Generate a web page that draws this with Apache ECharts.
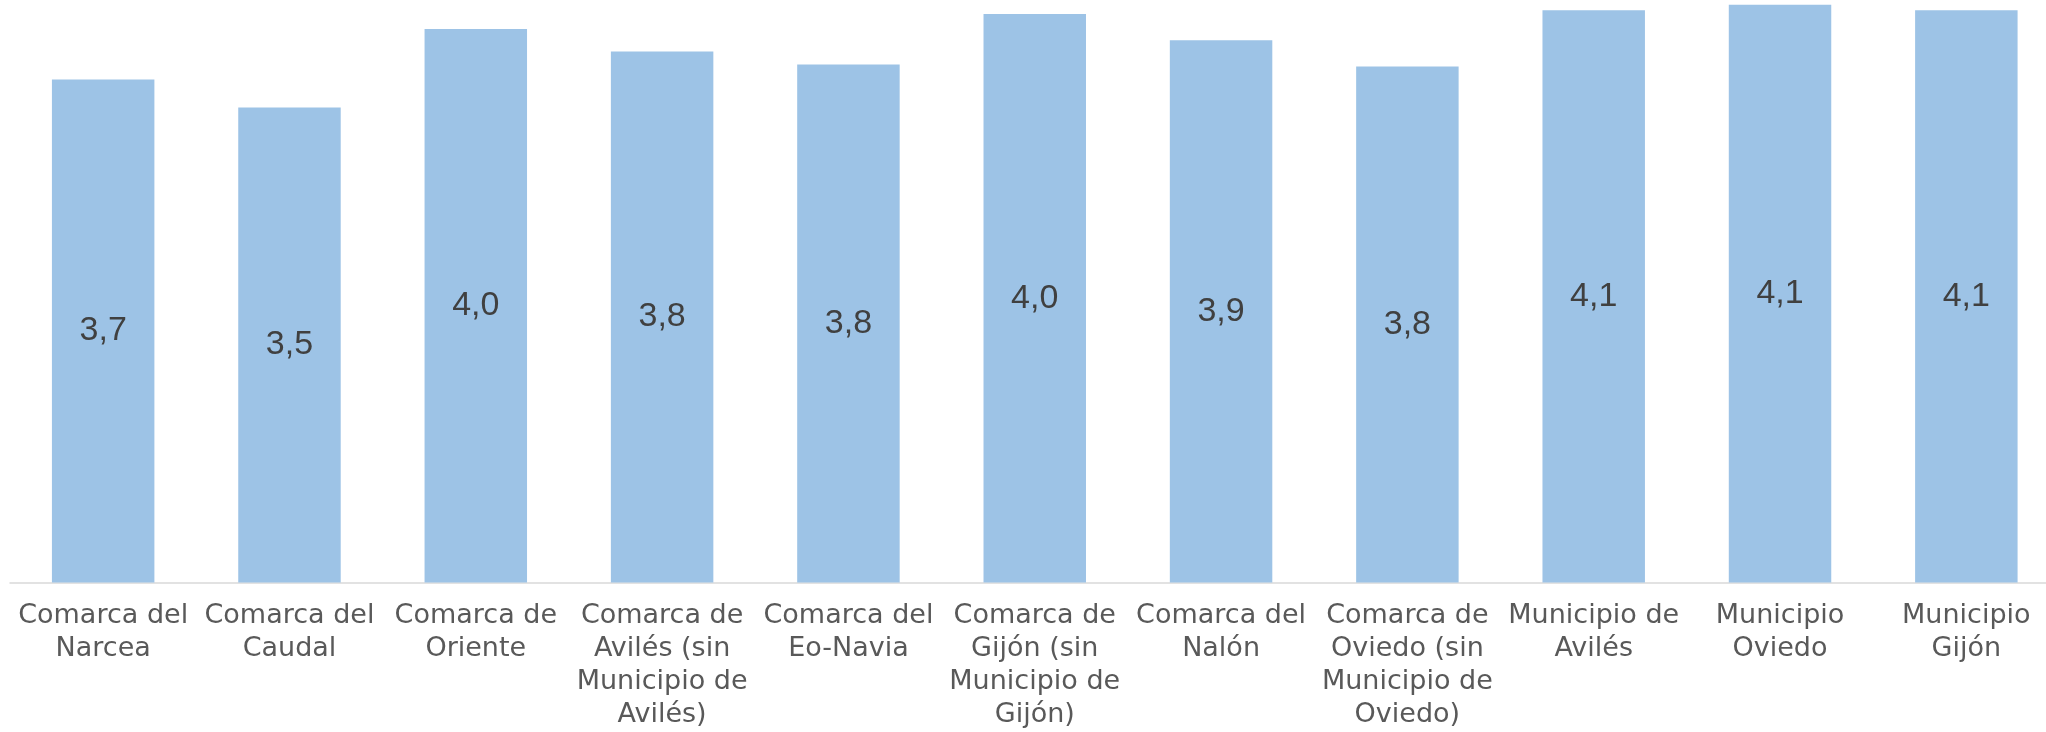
<!DOCTYPE html>
<html>
<head>
<meta charset="utf-8">
<script src="https://cdn.jsdelivr.net/npm/echarts@6/dist/echarts.min.js"></script>
<style>
html,body{margin:0;padding:0;background:#fff;overflow:hidden;width:2046px;height:732px;}
#chart{width:2060px;height:732px;}
</style>
</head>
<body>
<div id="chart"></div>
<script>
var categories = [
  "Comarca del\nNarcea",
  "Comarca del\nCaudal",
  "Comarca de\nOriente",
  "Comarca de\nAvilés (sin\nMunicipio de\nAvilés)",
  "Comarca del\nEo-Navia",
  "Comarca de\nGijón (sin\nMunicipio de\nGijón)",
  "Comarca del\nNalón",
  "Comarca de\nOviedo (sin\nMunicipio de\nOviedo)",
  "Municipio de\nAvilés",
  "Municipio\nOviedo",
  "Municipio\nGijón"
];
var values = [3.69, 3.54, 3.96, 3.84, 3.77, 4.04, 3.90, 3.76, 4.06, 4.09, 4.06];

var chart = echarts.init(document.getElementById('chart'), null, {renderer: 'canvas'});
chart.setOption({
  animation: false,
  backgroundColor: '#ffffff',
  grid: {left: 10, top: 0, right: 0.5, height: 582.5, containLabel: false},
  xAxis: {
    type: 'category',
    data: categories,
    axisLine: {show: true, lineStyle: {color: '#D9D9D9', width: 1.5}},
    axisTick: {show: false},
    axisLabel: {
      interval: 0,
      margin: 17,
      color: '#595959',
      fontFamily: 'DejaVu Sans',
      fontSize: 27,
      lineHeight: 33,
      align: 'center'
    }
  },
  yAxis: {
    type: 'value',
    min: 1,
    max: 4.115,
    show: false,
    splitLine: {show: false}
  },
  series: [{
    type: 'bar',
    data: values,
    barWidth: '55%',
    itemStyle: {color: '#9DC3E6'},
    label: {
      show: true,
      position: 'inside',
      color: '#404040',
      fontFamily: 'Liberation Sans',
      fontSize: 34,
      formatter: function (p) { return p.value.toFixed(1).replace('.', ','); }
    }
  }]
});
</script>
</body>
</html>
